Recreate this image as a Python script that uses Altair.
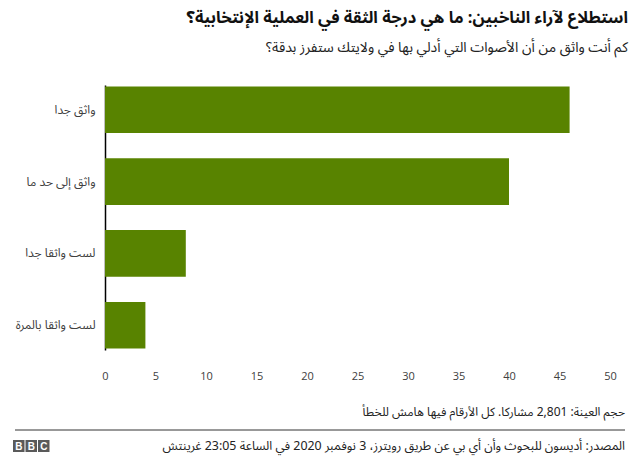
import altair as alt
import pandas as pd

categories = ["واثق جدا", "واثق إلى حد ما", "لست واثقا جدا", "لست واثقا بالمرة"]
values = [46, 40, 8, 4]
x_ticks = [0, 5, 10, 15, 20, 25, 30, 35, 40, 45, 50]

RLM = "\u200f"
title_text = RLM + "استطلاع لآراء الناخبين: ما هي درجة الثقة في العملية الإنتخابية؟" + RLM
subtitle_text = RLM + "كم أنت واثق من أن الأصوات التي أدلي بها في ولايتك ستفرز بدقة؟" + RLM
note_text = RLM + "حجم العينة: 2,801 مشاركا. كل الأرقام فيها هامش للخطأ" + RLM
source_text = RLM + "المصدر: أديسون للبحوث وأن أي بي عن طريق رويترز، 3 نوفمبر 2020 في الساعة 23:05 غرينتش" + RLM
logo_letters = ["B", "B", "C"]

FONT = "'Noto Sans Arabic', 'DejaVu Sans', sans-serif"
GREEN = "#588300"

df = pd.DataFrame({"category": categories, "value": values})

bars = alt.Chart(df).mark_bar(color=GREEN).encode(
    x=alt.X("value:Q", scale=alt.Scale(domain=[0, 50], nice=False),
            axis=alt.Axis(values=x_ticks, title=None, domain=False, ticks=False, grid=False,
                          labelPadding=20, labelFontSize=11, labelColor="#404040",
                          labelFlush=False, labelFont="'Open Sans', sans-serif")),
    y=alt.Y("category:N", sort=categories,
            scale=alt.Scale(paddingInner=0.35, paddingOuter=0.02),
            axis=alt.Axis(title=None, ticks=False, grid=False, domainColor="#000000",
                          domainWidth=1.5, labelPadding=10, labelFontSize=12,
                          labelColor="#404040", labelFont=FONT, labelLimit=200)),
)

def txt(s, x, y, size, weight="normal", color="#222222"):
    return alt.Chart(pd.DataFrame({"t": [s]})).mark_text(
        align="right", baseline="middle", fontSize=size, fontWeight=weight,
        font=FONT, color=color
    ).encode(text="t:N", x=alt.value(x), y=alt.value(y))

title = txt(title_text, 523, -67, 16.5, "bold", "#111111")
subtitle = txt(subtitle_text, 523, -37, 14, "normal", "#222222")
note = txt(note_text, 520, 327, 12, "normal", "#222222")
source = txt(source_text, 520, 361, 12.4, "normal", "#222222")

rule = alt.Chart(pd.DataFrame({"a": [0]})).mark_rule(color="#333333", strokeWidth=1).encode(
    x=alt.value(-90), x2=alt.value(520), y=alt.value(345)
)

logo_df = pd.DataFrame({"letter": logo_letters, "i": [0, 1, 2]})
logo_boxes = alt.Chart(logo_df).transform_calculate(
    x0="-92 + datum.i * 12.5", x1="-92 + datum.i * 12.5 + 11.5"
).mark_rect(color="#5a5a5a").encode(
    x=alt.X("x0:Q", scale=None), x2="x1:Q",
    y=alt.value(355), y2=alt.value(367)
)
logo_text = alt.Chart(logo_df).transform_calculate(
    xc="-92 + datum.i * 12.5 + 5.75"
).mark_text(color="white", fontSize=10, fontWeight="bold", font="'Liberation Sans', sans-serif",
            align="center", baseline="middle").encode(
    x=alt.X("xc:Q", scale=None), y=alt.value(361.5), text="letter:N"
)

chart = alt.layer(bars, title, subtitle, note, source, rule, logo_boxes, logo_text).properties(
    width=505, height=265,
    autosize=alt.AutoSizeParams(type="none"),
    padding={"left": 105, "top": 85, "right": 30, "bottom": 126},
).configure_view(stroke=None)

chart.save("out.html", embed_options={"renderer": "svg", "actions": False})
